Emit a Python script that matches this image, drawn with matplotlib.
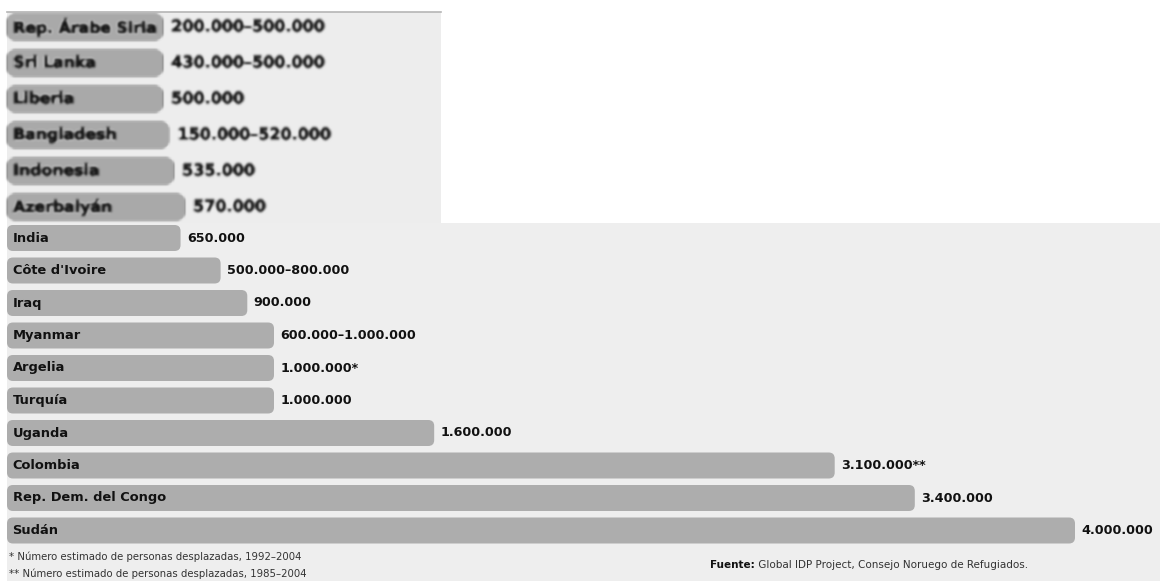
import numpy as np
import matplotlib
matplotlib.use("Agg")
import matplotlib.pyplot as plt
import matplotlib.patheffects as pe
from matplotlib.patches import FancyBboxPatch

# Desplazados internos por país (valor superior del rango estimado)
paises_arriba = ["Rep. Árabe Siria", "Sri Lanka", "Liberia", "Bangladesh",
                 "Indonesia", "Azerbaiyán"]
valores_arriba = [500000, 500000, 500000, 520000, 535000, 570000]
etiquetas_arriba = ["200.000–500.000", "430.000–500.000", "500.000",
                    "150.000–520.000", "535.000", "570.000"]

paises = ["India", "Côte d'Ivoire", "Iraq", "Myanmar", "Argelia", "Turquía",
          "Uganda", "Colombia", "Rep. Dem. del Congo", "Sudán"]
valores = [650000, 800000, 900000, 1000000, 1000000, 1000000,
           1600000, 3100000, 3400000, 4000000]
etiquetas = ["650.000", "500.000–800.000", "900.000", "600.000–1.000.000",
             "1.000.000*", "1.000.000", "1.600.000", "3.100.000**",
             "3.400.000", "4.000.000"]

nota1 = "* Número estimado de personas desplazadas, 1992–2004"
nota2 = "** Número estimado de personas desplazadas, 1985–2004"
fuente = "Global IDP Project, Consejo Noruego de Refugiados."

W, H = 1160, 581
FONDO = "#EEEEEE"
BARRA = "#ADADAD"
TEXTO = "#111111"


def desenfoque(sigma):
    # filtro gaussiano para artistas (agg_filter)
    r = int(3 * sigma) + 1
    k = np.exp(-0.5 * (np.arange(-r, r + 1) / sigma) ** 2)
    k /= k.sum()

    def f(img, dpi):
        pad = np.pad(img, ((r, r), (r, r), (0, 0)))
        tmp = np.zeros_like(pad)
        for i, w in enumerate(k):
            tmp += w * np.roll(pad, i - r, axis=0)
        out = np.zeros_like(pad)
        for i, w in enumerate(k):
            out += w * np.roll(tmp, i - r, axis=1)
        return out, -r, -r
    return f


def barras_redondeadas(ax, vals, alto, radio_px, color, filtro=None):
    fig.canvas.draw()
    x0, y0 = ax.transData.transform((0, 0))
    x1, y1 = ax.transData.transform((1, 1))
    px_x = abs(x1 - x0)
    px_y = abs(y1 - y0)
    aspecto = px_x / px_y
    r = radio_px / px_x
    for i, v in enumerate(vals):
        p = FancyBboxPatch((0, i - alto / 2), v, alto,
                           boxstyle=f"round,pad=0,rounding_size={r}",
                           mutation_aspect=aspecto, fc=color, ec="none",
                           zorder=2)
        if filtro is not None:
            p.set_agg_filter(filtro)
        ax.add_patch(p)


fig = plt.figure(figsize=(W / 100, H / 100), dpi=100)
fig.patch.set_facecolor("white")

# --- bloque superior (ampliado) ---
ax1 = fig.add_axes([7 / W, 1 - 223 / H, 434 / W, 211 / H])
ax1.set_facecolor("#EDEDED")
ax1.set_xlim(0, 434 / 312 * 1e6)
ax1.set_ylim(196 / 36, -15 / 36)
for s in ["left", "right", "bottom"]:
    ax1.spines[s].set_visible(False)
ax1.spines["top"].set_color("#B5B5B5")
ax1.spines["top"].set_linewidth(1.2)
ax1.set_xticks([])
ax1.set_yticks([])

blur = desenfoque(0.9)
grueso = [pe.withStroke(linewidth=0.6, foreground=TEXTO)]
barras_redondeadas(ax1, valores_arriba, 0.75, 8, "#A9A9A9", blur)
for i, (p, v, e) in enumerate(zip(paises_arriba, valores_arriba, etiquetas_arriba)):
    t = ax1.annotate(p, (0, i), xytext=(4.5, 0), textcoords="offset points",
                     va="center", ha="left", fontsize=11.3, fontweight="bold",
                     color=TEXTO, zorder=3, path_effects=grueso)
    t.set_agg_filter(blur)
    t = ax1.annotate(e, (v, i), xytext=(6, 0), textcoords="offset points",
                     va="center", ha="left", fontsize=11.5, fontweight="bold",
                     color=TEXTO, zorder=3, path_effects=grueso)
    t.set_agg_filter(blur)

# --- bloque inferior ---
ax2 = fig.add_axes([7 / W, 0, 1153 / W, 358 / H])
ax2.set_facecolor(FONDO)
ax2.set_xlim(0, 1153 / 267 * 1e6)
ax2.set_ylim(343 / 32.5, -15 / 32.5)
for s in ax2.spines.values():
    s.set_visible(False)
ax2.set_xticks([])
ax2.set_yticks([])

barras_redondeadas(ax2, valores, 0.8, 6, BARRA)
for i, (p, v, e) in enumerate(zip(paises, valores, etiquetas)):
    ax2.annotate(p, (0, i), xytext=(4, 0), textcoords="offset points",
                 va="center", ha="left", fontsize=9.4, fontweight="bold",
                 color=TEXTO, zorder=3)
    ax2.annotate(e, (v, i), xytext=(4.5, 0), textcoords="offset points",
                 va="center", ha="left", fontsize=9.2, fontweight="bold",
                 color=TEXTO, zorder=3)

# notas y fuente
fig.text(9 / W, 1 - 557 / H, nota1, fontsize=7.3, color="#333333", va="center")
fig.text(9 / W, 1 - 574 / H, nota2, fontsize=7.3, color="#333333", va="center")
tf = fig.text(710 / W, 1 - 565 / H, "Fuente:", fontsize=7.5, fontweight="bold",
              color=TEXTO, va="center")
ax2.annotate(" " + fuente, xy=(1, 0.5), xycoords=tf, va="center", ha="left",
             fontsize=7.5, color="#333333", annotation_clip=False)

fig.savefig("out.png", dpi=100)
